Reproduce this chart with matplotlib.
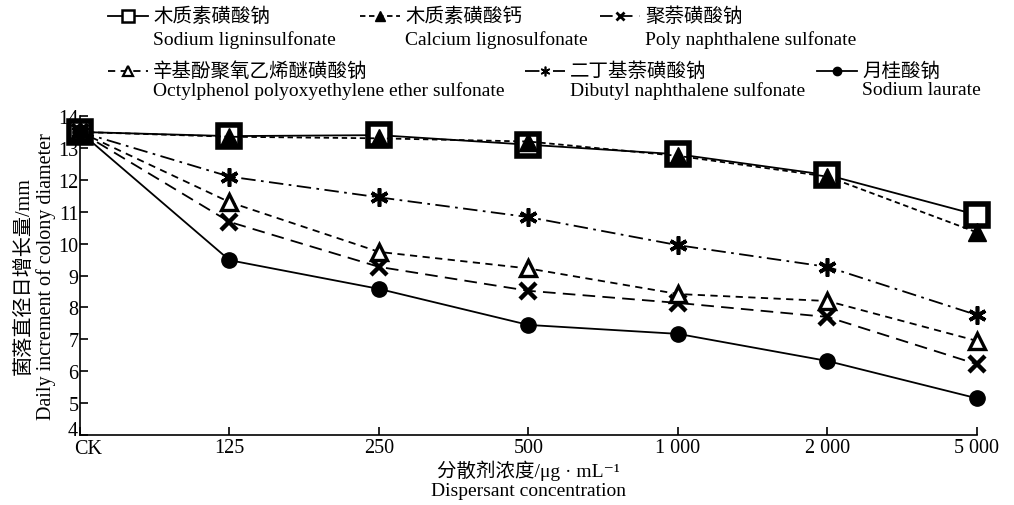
import matplotlib
matplotlib.use("Agg")
import matplotlib.pyplot as plt
from matplotlib.lines import Line2D
from matplotlib.transforms import ScaledTranslation

plt.rcParams['font.family'] = ['Liberation Serif', 'Noto Sans CJK SC', 'DejaVu Sans']

categories = ['CK', '125', '250', '500', '1 000', '2 000', '5 000']
names_cn = ['木质素磺酸钠', '木质素磺酸钙', '聚萘磺酸钠',
            '辛基酚聚氧乙烯醚磺酸钠', '二丁基萘磺酸钠', '月桂酸钠']
names_en = ['Sodium ligninsulfonate', 'Calcium lignosulfonate', 'Poly naphthalene sulfonate',
            'Octylphenol polyoxyethylene ether sulfonate', 'Dibutyl naphthalene sulfonate',
            'Sodium laurate']

sodium_lignin = [13.5, 13.37, 13.4, 13.1, 12.8, 12.15, 10.9]
calcium_ligno = [13.5, 13.35, 13.3, 13.2, 12.75, 12.1, 10.35]
poly_naph = [13.5, 10.68, 9.27, 8.52, 8.14, 7.7, 6.22]
octylphenol = [13.5, 11.3, 9.74, 9.22, 8.42, 8.2, 6.95]
dibutyl_naph = [13.5, 12.1, 11.45, 10.83, 9.95, 9.27, 7.76]
sodium_laurate = [13.5, 9.48, 8.58, 7.45, 7.17, 6.32, 5.15]

series = [sodium_lignin, calcium_ligno, poly_naph, octylphenol, dibutyl_naph, sodium_laurate]

AST = (6, 2, 0)
styles = [
    dict(ls='-', marker='s', mfc='white', mec='black', mew=4, ms=16),
    dict(ls=(0, (3, 2)), marker='^', mfc='black', mec='black', mew=1, ms=13),
    dict(ls=(0, (7, 4)), marker='x', mfc='black', mec='black', mew=3.2, ms=11),
    dict(ls=(0, (4, 3)), marker='^', mfc='white', mec='black', mew=2.4, ms=11),
    dict(ls=(0, (8, 3, 1.5, 3)), marker=AST, mfc='black', mec='black', mew=2.6, ms=13),
    dict(ls='-', marker='o', mfc='black', mec='black', mew=1, ms=11),
]
legend_ms = [8, 7, 6, 7, 7, 6]
legend_mew = [1.8, 1, 2, 1.6, 1.2, 1]
draw_order = [0, 1, 4, 3, 2, 5]

W, H = 1014, 506
fig = plt.figure(figsize=(W / 100, H / 100), dpi=100)
ax = fig.add_axes([80 / W, 1 - 436 / H, (977 - 80) / W, (436 - 117) / H])

x = list(range(len(categories)))
for i in draw_order:
    ax.plot(x, series[i], color='black', lw=1.3, clip_on=False, zorder=3 + i * 0.1, **styles[i])

ax.set_xlim(0, len(categories) - 1)
ax.set_ylim(4, 14)
ax.set_yticks(range(4, 15))
ax.set_xticks(x)
ax.set_xticklabels(categories)
for s in ['top', 'right']:
    ax.spines[s].set_visible(False)
for s in ['left', 'bottom']:
    ax.spines[s].set_linewidth(1.2)
ax.tick_params(direction='in', length=6, width=1.2, labelsize=14.5, pad=2)
ax.tick_params(axis='y', pad=1)
ck = ax.get_xticklabels()[0]
ck.set_transform(ck.get_transform() + ScaledTranslation(8 / 100, -1 / 100, fig.dpi_scale_trans))
four = ax.get_yticklabels()[0]
four.set_transform(four.get_transform() + ScaledTranslation(-1 / 100, 7 / 100, fig.dpi_scale_trans))

ax.set_ylabel('菌落直径日增长量/mm\nDaily increment of colony diameter', fontsize=14.5,
              linespacing=1.1, labelpad=2)
ax.set_xlabel('分散剂浓度/μg · mL⁻¹\nDispersant concentration', fontsize=14,
              linespacing=1.15, labelpad=1)

# manual legend (figure coordinates, pixels from top-left)
def fx(px):
    return px / W

def fy(py):
    return 1 - py / H

entries = [
    (0, 108, 17, 40), (1, 360, 17, 40), (2, 600, 17, 40),
    (3, 108, 72, 91), (4, 525, 72, 91), (5, 817, 72, 91),
]
for idx, x0, yc, ye in entries:
    st = dict(styles[idx])
    st.pop('ms')
    st.pop('mew')
    fig.add_artist(Line2D([fx(x0), fx(x0 + 20), fx(x0 + 40)], [fy(yc)] * 3,
                          transform=fig.transFigure, color='black', lw=1.3,
                          markevery=[1], ms=legend_ms[idx], mew=legend_mew[idx], **st))
    fig.text(fx(x0 + 45), fy(yc), names_cn[idx], fontsize=14, va='center', ha='left')
    fig.text(fx(x0 + 45), fy(ye), names_en[idx], fontsize=14, va='center', ha='left')

fig.savefig('out.png', dpi=100)
